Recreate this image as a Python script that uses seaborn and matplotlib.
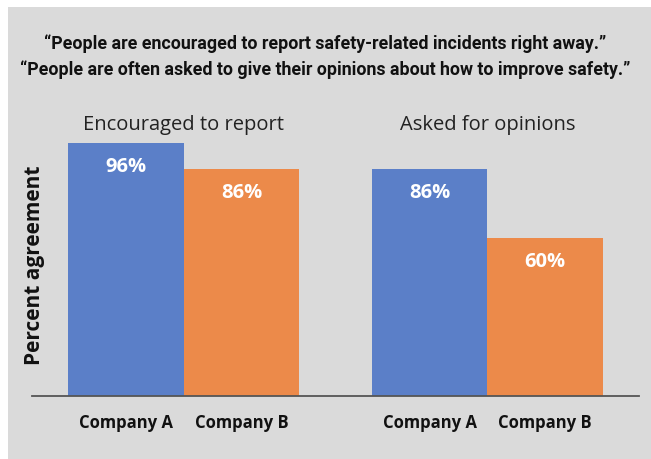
import pandas as pd
import matplotlib.pyplot as plt
import seaborn as sns
from matplotlib.patches import Rectangle

questions = ['Encouraged to report', 'Asked for opinions']
companies = ['Company A', 'Company B']
company_a = [96, 86]
company_b = [86, 60]

title_lines = ['\u201cPeople are encouraged to report safety-related incidents right away.\u201d',
               '\u201cPeople are often asked to give their opinions about how to improve safety.\u201d']

df = pd.DataFrame({
    'question': questions * 2,
    'company': [companies[0]] * 2 + [companies[1]] * 2,
    'value': company_a + company_b,
})

sns.set_theme(style='white')
plt.rcParams['font.family'] = ['Open Sans', 'DejaVu Sans']

bg = '#dadada'
fig = plt.figure(figsize=(6.51, 4.60), dpi=100)
fig.patch.set_facecolor('white')
fig.patches.append(Rectangle((8 / 651, 0), 1, 1 - 8 / 460, transform=fig.transFigure,
                             facecolor=bg, edgecolor='none', zorder=-10))

ax = fig.add_axes([32 / 651, 63 / 460, 607 / 651, 263.5 / 460])
ax.patch.set_alpha(0)

sns.barplot(data=df, x='question', y='value', hue='company', order=questions,
            hue_order=companies, palette=['#5b7fc8', '#ec8a4a'], width=0.76,
            saturation=1, linewidth=0, ax=ax, legend=False)

ax.set_xlim(-0.5, 1.5)
ax.set_ylim(0, 100)

for bars in ax.containers:
    for bar in bars:
        h = bar.get_height()
        ax.text(bar.get_x() + bar.get_width() / 2, h - 8.7, f'{h:.0f}%',
                ha='center', va='center', color='white', fontsize=14.5,
                fontweight='bold')

# group titles above the axes
for i, q in enumerate(questions):
    ax.text(i, 103.2, q, ha='center', va='center', fontsize=14.5, color='#222222')

# company labels under each bar
centers = [-0.19, 0.19, 0.81, 1.19]
ax.set_xticks(centers)
ax.set_xticklabels(companies * 2, fontweight='bold', fontsize=12, color='#111111')
ax.tick_params(axis='x', which='major', length=0, pad=12)
ax.set_xticks([-0.5, 0.5, 1.5], minor=True)
ax.tick_params(axis='x', which='minor', length=5, width=1.3, color='#555555', direction='out')
ax.set_xlabel('')

ax.set_yticks([])
ax.set_ylabel('Percent agreement', fontweight='bold', fontsize=15, color='#111111')
ax.yaxis.set_label_coords(0.022, 0.5)

for s in ['top', 'right', 'left']:
    ax.spines[s].set_visible(False)
ax.spines['bottom'].set_color('#555555')
ax.spines['bottom'].set_linewidth(1.3)

for k, line in enumerate(title_lines):
    fig.text(0.5, 1 - (44 + 26 * k) / 460, line, ha='center', va='center', fontsize=12.8,
             fontweight='bold', fontstretch='condensed',
             family=['Roboto', 'DejaVu Sans'], color='#111111')

fig.savefig('out.png', dpi=100, facecolor=fig.get_facecolor())
